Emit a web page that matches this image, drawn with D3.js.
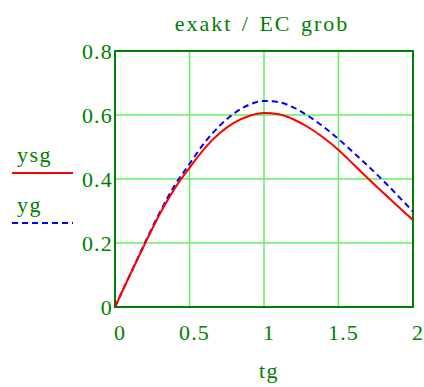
<!DOCTYPE html>
<html><head><meta charset="utf-8">
<script src="https://cdn.jsdelivr.net/npm/d3@7"></script>
<style>body{margin:0;background:#fff}svg{display:block}</style>
</head><body><svg id="c" width="424" height="387"></svg>
<script>
const tVals = [0,0.1,0.2,0.3,0.4,0.5,0.6,0.7,0.8,0.9,1.0,1.1,1.2,1.3,1.4,1.5,1.6,1.7,1.8,1.9,2.0];
const ysg = [0,0.10,0.197,0.29,0.37,0.435,0.495,0.542,0.576,0.597,0.606,0.602,0.586,0.561,0.529,0.491,0.446,0.401,0.357,0.314,0.272];
const yg  = [0,0.10,0.20,0.295,0.38,0.447,0.513,0.565,0.605,0.632,0.644,0.640,0.623,0.596,0.563,0.525,0.483,0.44,0.395,0.347,0.298];
const xTicks = [0,0.5,1,1.5,2];
const xTickLabels = ["0","0.5","1","1.5","2"];
const yTicks = [0,0.2,0.4,0.6,0.8];
const yTickLabels = ["0","0.2","0.4","0.6","0.8"];
const title = "exakt / EC grob";
const xLabel = "tg";
const seriesNames = ["ysg","yg"];

const dark = "#008000", grid = "#66ee66";
const FONT = '"Liberation Serif"';
const svg = d3.select("#c");
const L = 115, R = 413, T = 51, B = 307;
const x = d3.scaleLinear().domain([0,2]).range([L,R]);
const y = d3.scaleLinear().domain([0,0.8]).range([B,T]);

function styleText(sel, ls){
  sel.style("font-family", FONT).attr("font-size",22).style("letter-spacing", ls+"px").attr("fill", dark);
}

// grid
svg.append("g").selectAll("line").data(xTicks.slice(1,-1)).join("line")
  .attr("x1",d=>x(d)).attr("x2",d=>x(d)).attr("y1",T).attr("y2",B)
  .attr("stroke",grid).attr("stroke-width",1.5);
svg.append("g").selectAll("line").data(yTicks.slice(1,-1)).join("line")
  .attr("y1",d=>y(d)).attr("y2",d=>y(d)).attr("x1",L).attr("x2",R)
  .attr("stroke",grid).attr("stroke-width",1.5);

// axes (labels only)
const xAxis = d3.axisBottom(x).tickValues(xTicks).tickSize(0).tickFormat((d,i)=>xTickLabels[i]);
const gx = svg.append("g").attr("transform",`translate(0,${B})`).call(xAxis);
gx.attr("font-family", null).attr("font-size", null);
gx.select(".domain").remove();
gx.selectAll("text").attr("dy",0).attr("y",33).attr("dx",4.5).call(styleText, 1.2);
const yAxis = d3.axisLeft(y).tickValues(yTicks).tickSize(0).tickFormat((d,i)=>yTickLabels[i]);
const gy = svg.append("g").attr("transform",`translate(${L},0)`).call(yAxis);
gy.attr("font-family", null).attr("font-size", null);
gy.select(".domain").remove();
gy.selectAll("text").attr("x",-2).attr("dy","0.36em").call(styleText, 1.2);

// frame
svg.append("rect").attr("x",L).attr("y",T).attr("width",R-L).attr("height",B-T)
  .attr("fill","none").attr("stroke",dark).attr("stroke-width",2);

// lines
const line = d3.line().x((d,i)=>x(tVals[i])).y(d=>y(d)).curve(d3.curveMonotoneX);
svg.append("path").datum(yg).attr("d",line).attr("fill","none")
  .attr("stroke","#0000ff").attr("stroke-width",2).attr("stroke-dasharray","6,4");
svg.append("path").datum(ysg).attr("d",line).attr("fill","none")
  .attr("stroke","#ff0000").attr("stroke-width",2);

// title and label
svg.append("text").attr("x",262).attr("y",31).attr("text-anchor","middle")
  .style("word-spacing","2px").text(title).call(styleText, 2);
svg.append("text").attr("x",269).attr("y",378).attr("text-anchor","middle")
  .text(xLabel).call(styleText, 1.5);

// legend
svg.append("text").attr("x",17).attr("y",162).text(seriesNames[0]).call(styleText, 1.5);
svg.append("line").attr("x1",12).attr("x2",73).attr("y1",173).attr("y2",173).attr("stroke","#ff0000").attr("stroke-width",2);
svg.append("text").attr("x",17).attr("y",212).text(seriesNames[1]).call(styleText, 1.5);
svg.append("line").attr("x1",12).attr("x2",73).attr("y1",223).attr("y2",223).attr("stroke","#0000ff").attr("stroke-width",2).attr("stroke-dasharray","6,4");
</script></body></html>
